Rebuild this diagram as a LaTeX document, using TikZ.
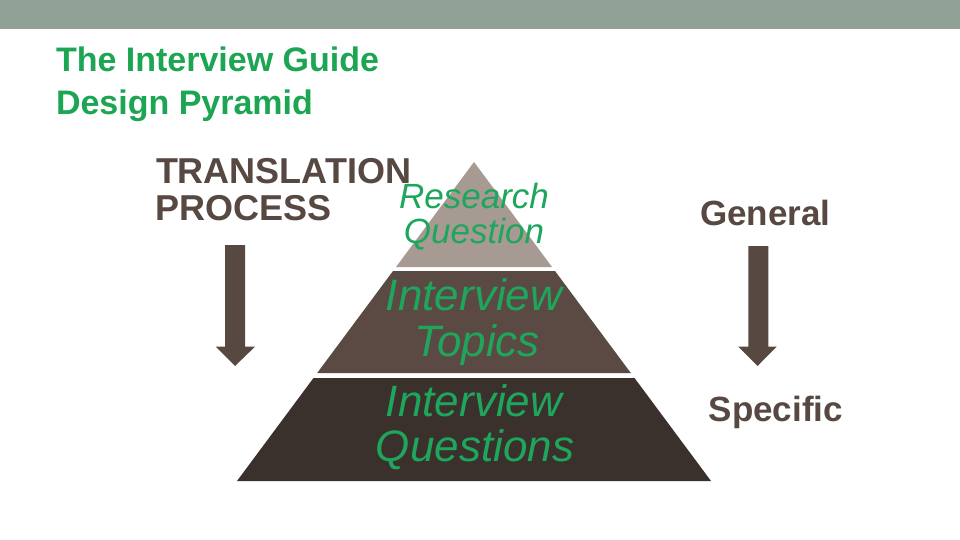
\documentclass[tikz,border=0pt]{standalone}
\usepackage{fontspec}
\setmainfont{Liberation Sans}
\definecolor{band}{HTML}{8FA295}
\definecolor{ttlgreen}{HTML}{1CA552}
\definecolor{pygreen}{HTML}{1EA65C}
\definecolor{darktxt}{HTML}{574842}
\definecolor{tierA}{HTML}{A69A93}
\definecolor{tierB}{HTML}{5A4A43}
\definecolor{tierC}{HTML}{3A302C}
\tikzset{
  lbl/.style={inner sep=0pt, outer sep=0pt},
  ttl/.style={lbl, anchor=base west, text=ttlgreen, font=\fontsize{34}{34}\selectfont\bfseries},
  sidetxt/.style={lbl, anchor=base west, text=darktxt, font=\fontsize{36}{36}\selectfont\bfseries},
  gstxt/.style={lbl, anchor=base west, text=darktxt, font=\fontsize{35}{35}\selectfont\bfseries},
  pysmall/.style={lbl, anchor=base, text=pygreen, font=\fontsize{35}{35}\selectfont\itshape},
  pybig/.style={lbl, anchor=base, text=pygreen, font=\fontsize{44}{44}\selectfont\itshape},
  blockarrow/.style={fill=darktxt, draw=none}
}
\begin{document}
\begin{tikzpicture}[x=1pt,y=-1pt]
\useasboundingbox (0,0) rectangle (960,540);
\fill[white] (0,0) rectangle (960,540);
\fill[band] (0,0) rectangle (960,29);
% pyramid tiers
\fill[tierA] (474,162) -- (552,267) -- (396,267) -- cycle;
\fill[tierB] (393,271) -- (555,271) -- (630.8,373) -- (317.2,373) -- cycle;
\fill[tierC] (313.5,378) -- (634.5,378) -- (711,481) -- (237,481) -- cycle;
% block arrows
\fill[blockarrow] (225,245) -- (245,245) -- (245,346.7) -- (255,346.7) -- (235,366) -- (215.7,346.7) -- (225,346.7) -- cycle;
\fill[blockarrow] (748.3,246) -- (768.3,246) -- (768.3,346.7) -- (776.7,346.7) -- (757.5,366) -- (738.3,346.7) -- (748.3,346.7) -- cycle;
% title
\node[ttl] (t1) at (56,72) {The Interview Guide};
\node[ttl] (t2) at (56,115) {Design Pyramid};
% side labels
\node[sidetxt] (tr1) at (156,183.3) {TRANSLATION};
\node[sidetxt] (tr2) at (155,220) {PROCESS};
\node[gstxt] (gen) at (700,225) {General};
\node[gstxt] (spe) at (708.7,421.7) {Specific};
% pyramid labels
\node[pysmall] (rq1) at (474,208.3) {Research};
\node[pysmall] (rq2) at (474,243.3) {Question};
\node[pybig] (it1) at (474,310) {Interview};
\node[pybig] (it2) at (477,356.7) {Topics};
\node[pybig] (iq1) at (474,416.7) {Interview};
\node[pybig] (iq2) at (475,461.7) {Questions};
\end{tikzpicture}
\end{document}
